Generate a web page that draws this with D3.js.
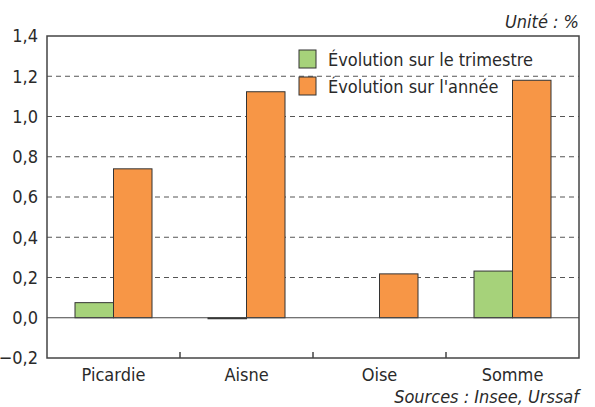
<!DOCTYPE html>
<html>
<head>
<meta charset="utf-8">
<script src="https://cdn.jsdelivr.net/npm/d3@7/dist/d3.min.js"></script>
<style>
  body { margin: 0; background: #fff; }
  text { font-family: "DejaVu Sans Condensed", "Liberation Sans Narrow", sans-serif; fill: #2a2a2a; }
</style>
</head>
<body>
<div id="chart"></div>
<script>
const categories = ["Picardie", "Aisne", "Oise", "Somme"];
const trimestre = [0.075, -0.005, 0, 0.232];
const annee = [0.74, 1.123, 0.218, 1.18];
const seriesNames = ["Évolution sur le trimestre", "Évolution sur l'année"];
const yTicks = [-0.2, 0, 0.2, 0.4, 0.6, 0.8, 1.0, 1.2, 1.4];

const W = 595, H = 407;
const margin = { top: 36, right: 16, bottom: 49, left: 47 };
const width = W - margin.left - margin.right;
const height = H - margin.top - margin.bottom;
const colors = ["#a6d27a", "#f79646"];
const fs = 18;

const svg = d3.select("#chart").append("svg")
  .attr("width", W).attr("height", H);
const g = svg.append("g").attr("transform", `translate(${margin.left},${margin.top})`);

const x = d3.scaleBand().domain(categories).range([0, width]).paddingInner(0).paddingOuter(0);
const xInner = d3.scaleBand().domain([0, 1]).range([28, x.bandwidth() - 28]);
const y = d3.scaleLinear().domain([-0.2, 1.4]).range([height, 0]);
const fmt = v => d3.format(".1f")(v).replace(".", ",");

// dashed grid
g.selectAll(".grid").data(yTicks.filter(v => v > 0 && v < 1.4)).enter()
  .append("line")
    .attr("x1", 0).attr("x2", width)
    .attr("y1", d => y(d)).attr("y2", d => y(d))
    .attr("stroke", "#555").attr("stroke-width", 1)
    .attr("stroke-dasharray", "5,4");

// y labels
g.selectAll(".ylab").data(yTicks).enter()
  .append("text")
    .attr("x", -9).attr("y", d => y(d)).attr("dy", "0.36em")
    .attr("text-anchor", "end").attr("font-size", fs)
    .text(fmt);

// bars
const rows = categories.map((c, i) => ({ c, vals: [trimestre[i], annee[i]] }));
const grp = g.selectAll(".grp").data(rows).enter().append("g")
  .attr("transform", d => `translate(${x(d.c)},0)`);
grp.selectAll("rect").data(d => d.vals.map((v, k) => ({ v, k }))).enter()
  .append("rect")
    .filter(d => d.v !== 0)
    .attr("x", d => xInner(d.k))
    .attr("width", xInner.bandwidth())
    .attr("y", d => Math.min(y(d.v), y(0)))
    .attr("height", d => Math.max(Math.abs(y(d.v) - y(0)), 1))
    .attr("fill", d => colors[d.k])
    .attr("stroke", "#333").attr("stroke-width", 1);

// zero line
g.append("line").attr("x1", 0).attr("x2", width)
  .attr("y1", y(0)).attr("y2", y(0)).attr("stroke", "#444");

// frame
g.append("rect").attr("x", 0).attr("y", 0).attr("width", width).attr("height", height)
  .attr("fill", "none").attr("stroke", "#444").attr("stroke-width", 1.5);

// x ticks between categories
g.selectAll(".xt").data(categories.slice(1)).enter()
  .append("line")
    .attr("x1", d => x(d)).attr("x2", d => x(d))
    .attr("y1", height).attr("y2", height - 6)
    .attr("stroke", "#444").attr("stroke-width", 1.5);

// x labels
g.selectAll(".xlab").data(categories).enter()
  .append("text")
    .attr("x", d => x(d) + x.bandwidth() / 2).attr("y", height + 23)
    .attr("text-anchor", "middle").attr("font-size", fs)
    .text(d => d);

// legend
const leg = g.append("g").attr("transform", "translate(252,14)");
seriesNames.forEach((name, i) => {
  leg.append("rect").attr("x", 0).attr("y", i * 27).attr("width", 17).attr("height", 18)
    .attr("fill", colors[i]).attr("stroke", "#333");
  leg.append("text").attr("x", 29).attr("y", i * 27 + 16)
    .attr("font-size", fs).text(name);
});

// unit + sources
svg.append("text").attr("x", W - 16).attr("y", 28).attr("text-anchor", "end")
  .attr("font-size", fs).attr("font-style", "italic").text("Unité : %");
svg.append("text").attr("x", W - 16).attr("y", 403).attr("text-anchor", "end")
  .attr("font-size", fs).attr("font-style", "italic").text("Sources : Insee, Urssaf");
</script>
</body>
</html>
